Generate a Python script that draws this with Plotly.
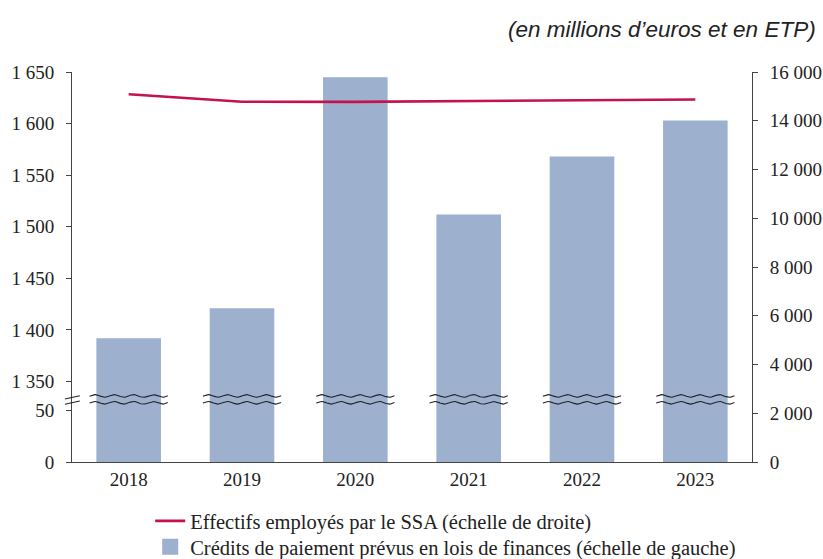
import numpy as np
import plotly.graph_objects as go

years = ["2018", "2019", "2020", "2021", "2022", "2023"]
credits = [1392, 1421, 1645, 1512, 1568, 1603]          # M€ (left axis)
effectifs = [15090, 14780, 14775, 14805, 14835, 14870]  # ETP (right axis)

left_tick_vals = [0, 50, 1350, 1400, 1450, 1500, 1550, 1600, 1650]
left_tick_text = ["0", "50", "1 350", "1 400", "1 450", "1 500",
                  "1 550", "1 600", "1 650"]
right_tick_vals = [0, 2000, 4000, 6000, 8000, 10000, 12000, 14000, 16000]
right_tick_text = ["0", "2 000", "4 000", "6 000", "8 000",
                   "10 000", "12 000", "14 000", "16 000"]

BAR_NAME = "Crédits de paiement prévus en lois de finances (échelle de gauche)"
LINE_NAME = "Effectifs employés par le SSA (échelle de droite)"

# broken left axis: values above the break are shifted down
LOW_MAX, HIGH_MIN, GAP = 50, 1350, 28


def disp(v):
    return v if v <= LOW_MAX else v - HIGH_MIN + LOW_MAX + GAP


xs = list(range(len(years)))
FONT = "Liberation Serif"
BAR_COLOR = "#9DB0CE"
LINE_COLOR = "#C4124A"

fig = go.Figure()
fig.add_trace(go.Bar(
    x=xs, y=[disp(v) for v in credits], width=0.57,
    marker=dict(color=BAR_COLOR, line=dict(width=0)),
    name=BAR_NAME, showlegend=False,
    customdata=credits, hovertemplate="%{customdata}<extra></extra>",
    yaxis="y",
))
# legend entry for the bars (larger square swatch)
fig.add_trace(go.Scatter(
    x=[None], y=[None], mode="markers",
    marker=dict(symbol="square", size=16, color=BAR_COLOR),
    name=BAR_NAME, legend="legend2", hoverinfo="skip",
))

# break marks (wavy lines) across each bar
t = np.linspace(-0.345, 0.345, 120)
for i in xs:
    for base in (57.4, 64.0):
        fig.add_trace(go.Scatter(
            x=i + t, y=base + 1.3 * np.sin(2 * np.pi * t / 0.17),
            mode="lines", line=dict(color="#222222", width=1.1),
            showlegend=False, hoverinfo="skip", yaxis="y",
        ))

fig.add_trace(go.Scatter(
    x=xs, y=effectifs, mode="lines",
    line=dict(color=LINE_COLOR, width=2.6),
    name=LINE_NAME, yaxis="y2", legend="legend",
))

# "//" marks on the left axis
for y0, y1 in ((55.9, 59.1), (61.0, 64.2)):
    fig.add_shape(type="line", xref="paper", yref="y",
                  x0=-0.0105, x1=0.0115, y0=y0, y1=y1,
                  line=dict(color="#222222", width=1.1))

legend_common = dict(
    xanchor="left", yanchor="top", font=dict(family=FONT, size=20.5),
    bgcolor="rgba(0,0,0,0)", itemwidth=30,
)

fig.update_layout(
    width=823, height=559,
    margin=dict(l=72, r=71, t=72, b=97, autoexpand=False),
    paper_bgcolor="white", plot_bgcolor="white",
    font=dict(family=FONT, size=19, color="#222222"),
    xaxis=dict(
        range=[-0.5, 5.5], tickvals=xs, ticktext=years,
        showline=True, linecolor="#444444", linewidth=1,
        ticks="", showgrid=False, zeroline=False,
        tickfont=dict(family=FONT, size=19),
    ),
    yaxis=dict(
        range=[0, disp(1650)],
        tickvals=[disp(v) for v in left_tick_vals], ticktext=left_tick_text,
        showline=True, linecolor="#444444", linewidth=1,
        ticks="outside", ticklen=5, tickcolor="#444444",
        showgrid=False, zeroline=False,
        ticklabelstandoff=8,
        tickfont=dict(family=FONT, size=19),
    ),
    yaxis2=dict(
        range=[0, 16000], overlaying="y", side="right",
        tickvals=right_tick_vals, ticktext=right_tick_text,
        showline=True, linecolor="#444444", linewidth=1,
        ticks="outside", ticklen=5, tickcolor="#444444",
        showgrid=False, zeroline=False,
        ticklabelstandoff=8,
        tickfont=dict(family=FONT, size=19),
    ),
    legend=dict(x=0.115, y=-0.1, **legend_common),
    legend2=dict(x=0.115, y=-0.1667, **legend_common),
    showlegend=True,
    annotations=[dict(
        text="<i>(en millions d\u2019euros et en ETP)</i>",
        xref="paper", yref="paper", x=1.097, y=1.108,
        xanchor="right", yanchor="middle", showarrow=False,
        font=dict(family="Liberation Sans", size=22.5, color="#222222"),
    )],
)

fig.write_html(
    "out.html",
    config={"displayModeBar": False},
    post_script="document.body.style.margin='0';document.body.style.overflow='hidden';",
)
